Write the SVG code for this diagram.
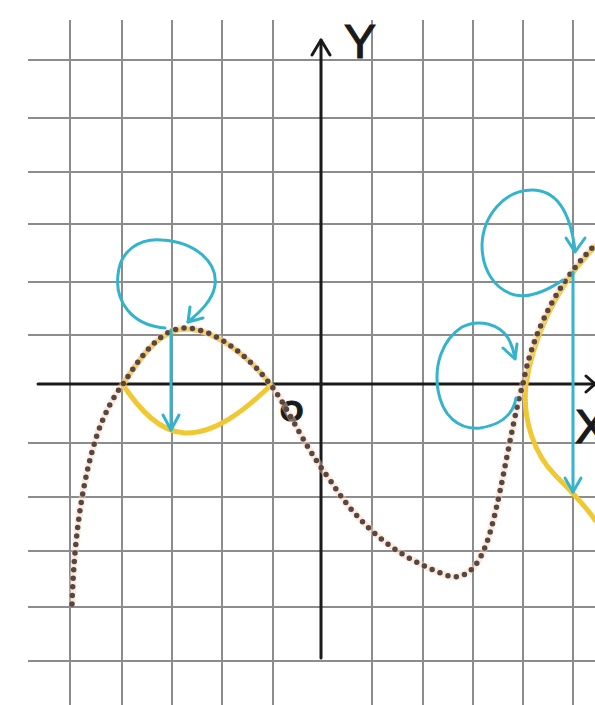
<svg xmlns="http://www.w3.org/2000/svg" width="595" height="705" viewBox="0 0 595 705">
<style>
.grid{stroke:#8c8c8c;stroke-width:2;fill:none}
.axis{stroke:#1a1a1a;stroke-width:3;fill:none;stroke-linecap:round;stroke-linejoin:round}
.yel{stroke:#f0c832;stroke-width:5;fill:none;stroke-linecap:round}
.halo{stroke:#f6d3b8;stroke-width:7;fill:none;opacity:0.45}
.dots{stroke:#574642;stroke-width:5.5;fill:none;stroke-linecap:round;stroke-dasharray:0 8.5}
.blue{stroke:#33b4cc;stroke-width:3;fill:none;stroke-linecap:round;stroke-linejoin:round}
.lbl{font-family:"Liberation Sans",Arial,sans-serif;fill:#1a1a1a;stroke:#1a1a1a;stroke-width:1.2}
</style>
<rect width="595" height="705" fill="#ffffff"/>
<g id="grid" class="grid">
<path d="M70 20V705M122 20V705M172 20V705M222 20V705M273 20V705M372 20V705M423 20V705M473 20V705M523 20V705M573 20V705"/>
<path d="M28 60H595M28 118H595M28 172H595M28 224H595M28 282H595M28 335H595M28 443H595M28 497H595M28 551H595M28 607H595M28 661H595"/>
</g>
<g id="axes" class="axis">
<path d="M38 384H595"/>
<path d="M586 376L595 384L586 392"/>
<path d="M321 658V40"/>
<path d="M312 55L321 40L330 55"/>
</g>
<g id="labels">
<text class="lbl" x="344" y="58" font-size="48">Y</text>
<text class="lbl" x="575" y="443" font-size="48">X</text>
<text class="lbl" x="280" y="421" font-size="30" font-weight="bold">O</text>
</g>
<g id="yellow-curves">
<path class="yel" d="M123 384C140 358 160 330 185 329C215 329 250 358 270 384"/>
<path class="yel" d="M123 385C140 410 160 432 185 433C215 434 245 410 270 386"/>
<path class="yel" d="M595 247C552 290 532 345 526 384C522 420 535 455 555 475C570 490 585 505 595 520"/>
</g>
<g id="dotted-curve">
<path class="halo" d="M72 604C74 540 82 480 98 432C106 410 114 396 123 384C140 358 160 328 185 328C215 328 250 358 270 384C290 410 300 440 330 480C360 528 400 560 452 577C478 578 488 545 497 505C505 470 515 410 523 384C530 345 550 290 595 245"/>
<path class="dots" d="M72 604C74 540 82 480 98 432C106 410 114 396 123 384C140 358 160 328 185 328C215 328 250 358 270 384C290 410 300 440 330 480C360 528 400 560 452 577C478 578 488 545 497 505C505 470 515 410 523 384C530 345 550 290 595 245"/>
</g>
<g id="connectors">
<g id="left-loop" class="blue">
<path d="M165 328C130 325 115 300 118 275C120 250 140 238 162 240C195 242 218 262 215 285C213 300 200 312 188 322"/>
<path d="M190 307L188 322L203 318"/>
</g>
<g id="left-drop" class="blue">
<path d="M171 330V430"/>
<path d="M163 415L171 430L179 415"/>
</g>
<g id="right-upper-loop" class="blue">
<path d="M563 280C545 292 530 298 515 295C495 290 482 270 482 245C483 215 505 190 532 190C555 190 570 210 575 250"/>
<path d="M566 238L575 252L585 238"/>
</g>
<g id="right-drop" class="blue">
<path d="M573 272V492"/>
<path d="M565 478L573 492L581 478"/>
</g>
<g id="right-lower-loop" class="blue">
<path d="M516 398C513 415 500 425 480 428C458 430 442 415 438 390C434 365 442 340 462 327C480 318 500 325 508 338C512 345 514 352 515 358"/>
<path d="M503 348L515 359L517 344"/>
</g>
</g>
</svg>
